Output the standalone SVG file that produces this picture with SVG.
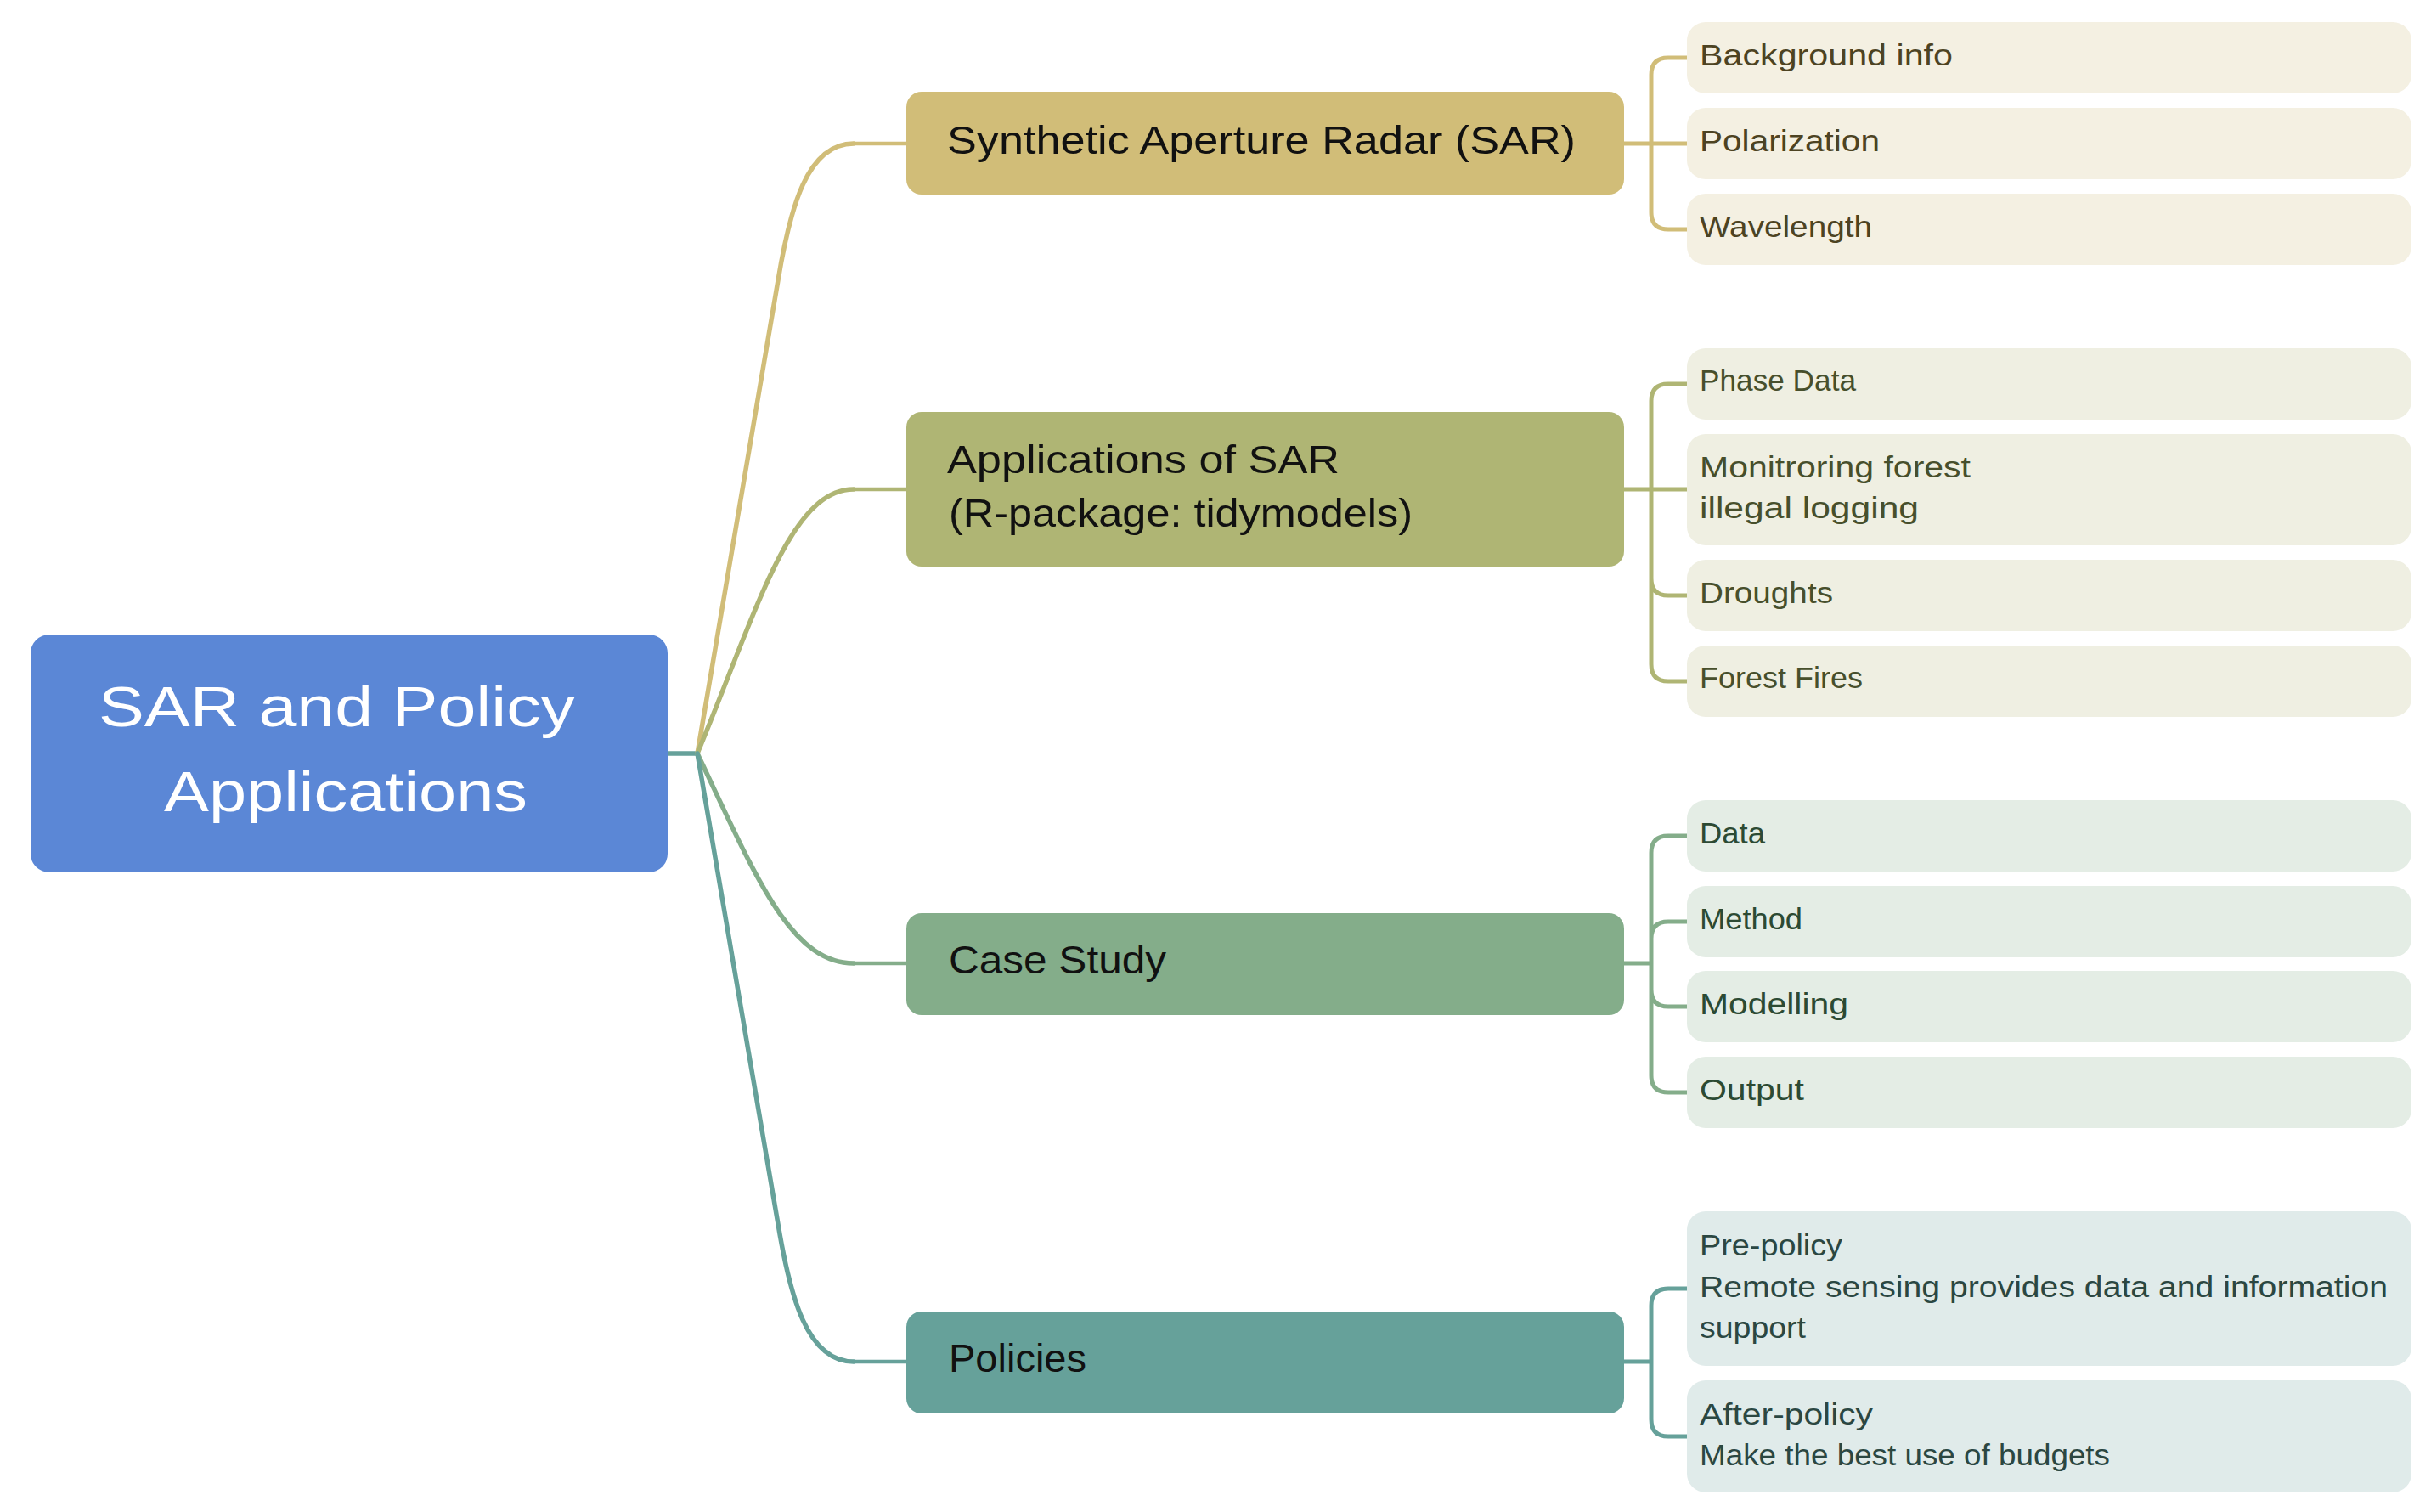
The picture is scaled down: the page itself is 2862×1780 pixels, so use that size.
<svg xmlns="http://www.w3.org/2000/svg" width="2862" height="1780" viewBox="0 0 2862 1780">
<style>
text{font-family:"Liberation Sans",Arial,sans-serif;}
.root-t{font-size:66px;fill:#ffffff;}
.l1-t{font-size:46px;fill:#111111;}
.l2-t{font-size:35px;}
.c{fill:none;stroke-linecap:round;stroke-linejoin:round;}
.main{stroke-width:5.5;}
.end{stroke-width:4.5;}
.br{stroke-width:5;}
</style>
<rect width="2862" height="1780" fill="#ffffff"/>
<g id="connectors">
  <path class="c main" stroke="#66A19A" d="M786,887 H821"/>
  <path class="c main" stroke="#D1BD78" d="M821,887 L916,330 C930,245 950,169 1005,169"/>
  <path class="c end" stroke="#D1BD78" d="M1005,169 H1067"/>
  <path class="c main" stroke="#AFB574" d="M821,887 C891,719 930,576 1005,576"/>
  <path class="c end" stroke="#AFB574" d="M1005,576 H1067"/>
  <path class="c main" stroke="#84AD8A" d="M821,887 C889,1030 930,1134 1005,1134"/>
  <path class="c end" stroke="#84AD8A" d="M1005,1134 H1067"/>
  <path class="c main" stroke="#66A19A" d="M821,887 L916,1441 C930,1526 950,1603 1005,1603"/>
  <path class="c end" stroke="#66A19A" d="M1005,1603 H1067"/>
  <path class="c br" stroke="#D1BD78" d="M1912,169 H1986 M1986,68 H1964 Q1944,68 1944,88 V250 Q1944,270 1964,270 H1986"/>
  <path class="c br" stroke="#AFB574" d="M1912,576 H1986 M1986,452 H1964 Q1944,452 1944,472 V782 Q1944,802 1964,802 H1986 M1944,681 Q1944,701 1964,701 H1986"/>
  <path class="c br" stroke="#84AD8A" d="M1912,1134 H1944 M1986,984 H1964 Q1944,984 1944,1004 V1266 Q1944,1286 1964,1286 H1986 M1944,1105 Q1944,1085 1964,1085 H1986 M1944,1165 Q1944,1185 1964,1185 H1986"/>
  <path class="c br" stroke="#66A19A" d="M1912,1603 H1944 M1986,1517 H1964 Q1944,1517 1944,1537 V1671 Q1944,1691 1964,1691 H1986"/>
</g>
<g id="root">
  <rect x="36" y="747" width="750" height="280" rx="22" fill="#5B87D6"/>
  <text class="root-t" x="116" y="855" textLength="561" lengthAdjust="spacingAndGlyphs">SAR and Policy</text>
  <text class="root-t" x="193" y="955" textLength="428" lengthAdjust="spacingAndGlyphs">Applications</text>
</g>
<g id="sar">
  <rect x="1067" y="108" width="845" height="121" rx="18" fill="#D1BD78"/>
  <text class="l1-t" x="1115" y="181" textLength="740" lengthAdjust="spacingAndGlyphs">Synthetic Aperture Radar (SAR)</text>
</g>
<g id="apps">
  <rect x="1067" y="485" width="845" height="182" rx="18" fill="#AFB574"/>
  <text class="l1-t" x="1115" y="557" textLength="462" lengthAdjust="spacingAndGlyphs">Applications of SAR</text>
  <text class="l1-t" x="1117" y="620" textLength="546" lengthAdjust="spacingAndGlyphs">(R-package: tidymodels)</text>
</g>
<g id="case">
  <rect x="1067" y="1075" width="845" height="120" rx="18" fill="#84AD8A"/>
  <text class="l1-t" x="1117" y="1146" textLength="256" lengthAdjust="spacingAndGlyphs">Case Study</text>
</g>
<g id="policies">
  <rect x="1067" y="1544" width="845" height="120" rx="18" fill="#66A19A"/>
  <text class="l1-t" x="1117" y="1615" textLength="162" lengthAdjust="spacingAndGlyphs">Policies</text>
</g>
<g id="background-info">
  <rect x="1986" y="26" width="853" height="84" rx="22" fill="#F4F0E2"/>
  <text class="l2-t" fill="#4D4322" x="2001" y="77" textLength="298" lengthAdjust="spacingAndGlyphs">Background info</text>
</g>
<g id="polarization">
  <rect x="1986" y="127" width="853" height="84" rx="22" fill="#F4F0E2"/>
  <text class="l2-t" fill="#4D4322" x="2001" y="178" textLength="212" lengthAdjust="spacingAndGlyphs">Polarization</text>
</g>
<g id="wavelength">
  <rect x="1986" y="228" width="853" height="84" rx="22" fill="#F4F0E2"/>
  <text class="l2-t" fill="#4D4322" x="2001" y="279" textLength="203" lengthAdjust="spacingAndGlyphs">Wavelength</text>
</g>
<g id="phase-data">
  <rect x="1986" y="410" width="853" height="84" rx="22" fill="#EFEFE2"/>
  <text class="l2-t" fill="#474F2C" x="2001" y="460" textLength="184" lengthAdjust="spacingAndGlyphs">Phase Data</text>
</g>
<g id="monitoring">
  <rect x="1986" y="511" width="853" height="131" rx="22" fill="#EFEFE2"/>
  <text class="l2-t" fill="#474F2C" x="2001" y="562" textLength="319" lengthAdjust="spacingAndGlyphs">Monitroring forest</text>
  <text class="l2-t" fill="#474F2C" x="2001" y="610" textLength="258" lengthAdjust="spacingAndGlyphs">illegal logging</text>
</g>
<g id="droughts">
  <rect x="1986" y="659" width="853" height="84" rx="22" fill="#EFEFE2"/>
  <text class="l2-t" fill="#474F2C" x="2001" y="710" textLength="157" lengthAdjust="spacingAndGlyphs">Droughts</text>
</g>
<g id="forest-fires">
  <rect x="1986" y="760" width="853" height="84" rx="22" fill="#EFEFE2"/>
  <text class="l2-t" fill="#474F2C" x="2001" y="810" textLength="192" lengthAdjust="spacingAndGlyphs">Forest Fires</text>
</g>
<g id="data">
  <rect x="1986" y="942" width="853" height="84" rx="22" fill="#E4EDE5"/>
  <text class="l2-t" fill="#2C4A33" x="2001" y="993" textLength="77" lengthAdjust="spacingAndGlyphs">Data</text>
</g>
<g id="method">
  <rect x="1986" y="1043" width="853" height="84" rx="22" fill="#E4EDE5"/>
  <text class="l2-t" fill="#2C4A33" x="2001" y="1094" textLength="121" lengthAdjust="spacingAndGlyphs">Method</text>
</g>
<g id="modelling">
  <rect x="1986" y="1143" width="853" height="84" rx="22" fill="#E4EDE5"/>
  <text class="l2-t" fill="#2C4A33" x="2001" y="1194" textLength="175" lengthAdjust="spacingAndGlyphs">Modelling</text>
</g>
<g id="output">
  <rect x="1986" y="1244" width="853" height="84" rx="22" fill="#E4EDE5"/>
  <text class="l2-t" fill="#2C4A33" x="2001" y="1295" textLength="123" lengthAdjust="spacingAndGlyphs">Output</text>
</g>
<g id="pre-policy">
  <rect x="1986" y="1426" width="853" height="182" rx="22" fill="#E0EBEA"/>
  <text class="l2-t" fill="#2B4742" x="2001" y="1478" textLength="168" lengthAdjust="spacingAndGlyphs">Pre-policy</text>
  <text class="l2-t" fill="#2B4742" x="2001" y="1527" textLength="810" lengthAdjust="spacingAndGlyphs">Remote sensing provides data and information</text>
  <text class="l2-t" fill="#2B4742" x="2001" y="1575" textLength="125" lengthAdjust="spacingAndGlyphs">support</text>
</g>
<g id="after-policy">
  <rect x="1986" y="1625" width="853" height="132" rx="22" fill="#E0EBEA"/>
  <text class="l2-t" fill="#2B4742" x="2001" y="1677" textLength="204" lengthAdjust="spacingAndGlyphs">After-policy</text>
  <text class="l2-t" fill="#2B4742" x="2001" y="1725" textLength="483" lengthAdjust="spacingAndGlyphs">Make the best use of budgets</text>
</g>
</svg>
